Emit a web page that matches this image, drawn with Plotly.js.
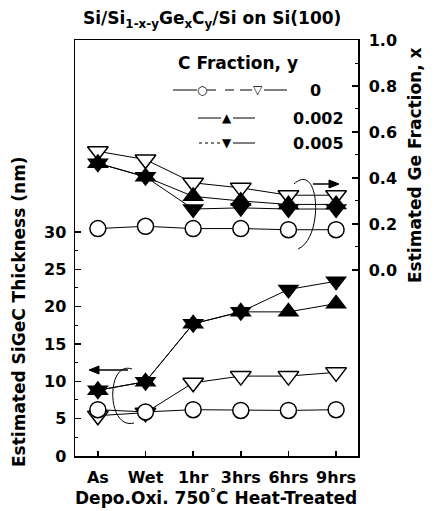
<!DOCTYPE html>
<html><head><meta charset="utf-8">
<script src="https://cdn.plot.ly/plotly-3.0.1.min.js"></script>
<style>html,body{margin:0;padding:0;background:#fff}</style>
</head><body>
<div id="chart" style="width:439px;height:511px"></div>
<script>
// ---- data ----
const categories = ['As', 'Wet', '1hr', '3hrs', '6hrs', '9hrs'];
// Estimated SiGeC thickness (nm), left axis
const thickC0circle = [6.2, 5.9, 6.2, 6.1, 6.1, 6.2];
const thickC0tri    = [5.4, 5.8, 9.8, 10.7, 10.7, 11.2];
const thickC002     = [8.8, 9.95, 17.7, 19.3, 19.3, 20.4];
const thickC005     = [8.8, 9.95, 17.7, 19.3, 22.3, 23.4];
// Estimated Ge fraction x, right axis
const geC0circle = [0.18, 0.19, 0.18, 0.18, 0.175, 0.175];
const geC0tri    = [0.516, 0.48, 0.379, 0.357, 0.325, 0.325];
const geC002     = [0.464, 0.405, 0.32, 0.30, 0.285, 0.285];
const geC005     = [0.464, 0.405, 0.265, 0.27, 0.265, 0.265];
// axis ticks
const leftTicks = [0, 5, 10, 15, 20, 25, 30];
const leftMinor = [2.5, 7.5, 12.5, 17.5, 22.5, 27.5];
const rightTicks = [0, 0.2, 0.4, 0.6, 0.8, 1.0];
const rightTickText = ['0.0', '0.2', '0.4', '0.6', '0.8', '1.0'];
const rightMinor = [0.1, 0.3, 0.5, 0.7, 0.9];
const legendLabels = ['0', '0.002', '0.005'];

// ---- layout helpers ----
const W = 439, H = 511, L = 75, R = 81, T = 40, B = 55;
const pw = W - L - R, ph = H - T - B;
const px = x => (x - L) / pw;
const py = y => (T + ph - y) / ph;
const FAM = 'DejaVu Sans, Arial, sans-serif';
const bold = s => ({family: FAM, size: s, color: '#000', weight: 700});

function series(y, axis, symbol, filled, size) {
  return {
    x: categories, y: y, yaxis: axis, mode: 'lines+markers', showlegend: false,
    line: {color: '#000', width: 1},
    marker: {symbol: symbol, size: size, color: filled ? '#000' : '#fff',
             line: {color: '#000', width: filled ? 0 : 1.5}}
  };
}

const data = [
  series(geC0tri, 'y2', 'triangle-down', false, 18),
  series(geC0circle, 'y2', 'circle', false, 16),
  series(geC002, 'y2', 'triangle-up', true, 19),
  series(geC005, 'y2', 'triangle-down', true, 19),
  series(thickC0tri, 'y', 'triangle-down', false, 18),
  series(thickC0circle, 'y', 'circle', false, 16),
  series(thickC002, 'y', 'triangle-up', true, 19),
  series(thickC005, 'y', 'triangle-down', true, 19)
];

const axisCommon = {
  showline: true, linecolor: '#000', linewidth: 1.5, showgrid: false, zeroline: false,
  ticks: 'inside', tickcolor: '#000', tickwidth: 1.5, tickfont: bold(16)
};

const sh = [];
function seg(x0, x1, y, dash, w) {
  sh.push({type: 'line', xref: 'paper', yref: 'paper', x0: px(x0), x1: px(x1), y0: py(y), y1: py(y),
           line: {color: '#000', width: w || 1, dash: dash || 'solid'}});
}
function poly(pts, fill) {
  const p = pts.map(([x, y]) => px(x).toFixed(4) + ',' + py(y).toFixed(4));
  sh.push({type: 'path', xref: 'paper', yref: 'paper', path: 'M' + p.join(' L') + ' Z',
           fillcolor: '#000', line: {color: '#000', width: 1}});
}
// legend key lines
seg(173, 197, 90); seg(207, 240, 90, 'dash'); seg(240, 252, 90); seg(264, 287, 90);
seg(198, 221, 118); seg(233, 255, 118);
seg(199, 221, 143, 'dot'); seg(233, 255, 143);
// curved annotation arcs
function arc(pts) {
  const p = pts.map(([x, y]) => px(x).toFixed(4) + ',' + py(y).toFixed(4));
  sh.push({type: 'path', xref: 'paper', yref: 'paper',
           path: 'M' + p[0] + ' C' + p[1] + ' ' + p[2] + ' ' + p[3],
           line: {color: '#000', width: 1}});
}
arc([[132, 369], [106, 360], [106, 430], [134, 423]]);
arc([[294, 184], [320, 160], [324, 238], [298, 249]]);
// arrows
seg(97, 128, 370, 'solid', 1.5); poly([[89, 370], [99, 366], [99, 374]]);
seg(313, 331, 184, 'solid', 1.5); poly([[339, 184], [329, 180], [329, 188]]);

const ann = [];
function txt(text, x, y, size, extra) {
  ann.push(Object.assign({text: text, xref: 'paper', yref: 'paper', x: px(x), y: py(y),
    showarrow: false, font: bold(size), xanchor: 'center', yanchor: 'middle'}, extra || {}));
}
txt('Si/Si<sub>1-x-y</sub>Ge<sub>x</sub>C<sub>y</sub>/Si on Si(100)', 212, 20, 17);
txt('Estimated SiGeC Thickness (nm)', 19, 312, 17, {textangle: -90});
txt('Estimated Ge Fraction, x', 415, 165, 17, {textangle: -90});
txt('Depo.Oxi. 750<sup>°</sup>C Heat-Treated', 216, 497, 17);
txt('C Fraction, y', 238, 63, 17);
txt(legendLabels[0], 315, 90, 16);
txt(legendLabels[1], 318, 118, 16);
txt(legendLabels[2], 318, 143, 16);
// legend key symbols
const sym = (s, x, y, size) => ann.push({text: s, xref: 'paper', yref: 'paper', x: px(x), y: py(y),
  showarrow: false, font: {family: 'DejaVu Sans', size: size, color: '#000'}, xanchor: 'center', yanchor: 'middle'});
sym('○', 202, 90, 12); sym('▽', 258, 90, 12); sym('▲', 227, 118, 12); sym('▼', 227, 143, 12);

const layout = {
  width: W, height: H, margin: {l: L, r: R, t: T, b: B},
  paper_bgcolor: '#fff', plot_bgcolor: '#fff', showlegend: false,
  xaxis: Object.assign({}, axisCommon, {type: 'category', range: [-0.48, 5.46], ticklen: 5,
    mirror: true, ticklabelstandoff: 6}),
  yaxis: Object.assign({}, axisCommon, {range: [0, 55.7], tickvals: leftTicks, ticklen: 6,
    ticklabelstandoff: 4,
    minor: {tickvals: leftMinor, ticks: 'inside', ticklen: 3, tickcolor: '#000', tickwidth: 1}}),
  yaxis2: Object.assign({}, axisCommon, {overlaying: 'y', side: 'right', range: [-0.809, 1.0],
    tickvals: rightTicks, ticktext: rightTickText, ticklen: 6, ticklabelstandoff: 6,
    minor: {tickvals: rightMinor, ticks: 'inside', ticklen: 3, tickcolor: '#000', tickwidth: 1}}),
  shapes: sh, annotations: ann
};

Plotly.newPlot('chart', data, layout, {staticPlot: true, displayModeBar: false});
</script>
</body></html>
